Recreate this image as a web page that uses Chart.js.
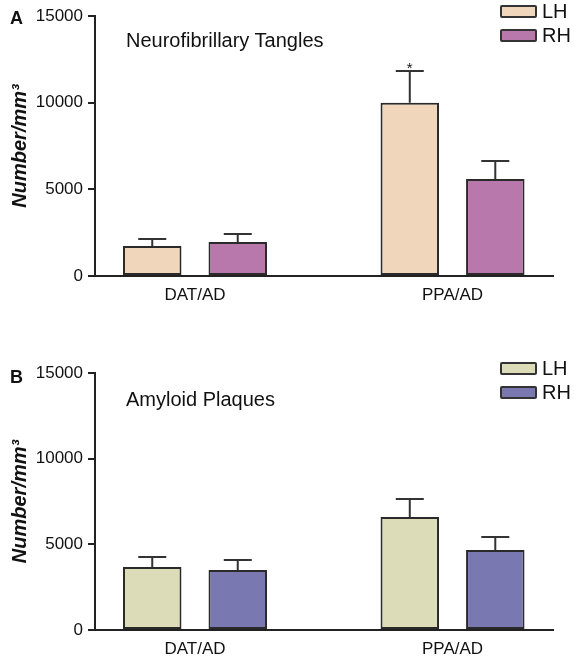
<!DOCTYPE html>
<html>
<head>
<meta charset="utf-8">
<script src="https://cdn.jsdelivr.net/npm/chart.js@4.4.1/dist/chart.umd.min.js"></script>
<style>
  html, body { margin: 0; padding: 0; background: #fff; }
  body { width: 574px; height: 660px; position: relative; overflow: hidden;
         font-family: "Liberation Sans", Arial, Helvetica, sans-serif; color: #111; }
  .panel { position: absolute; left: 0; width: 574px; }
  .panel canvas { position: absolute; left: 0; top: 0; }
  .tag { position: absolute; left: 10px; font-size: 18px; font-weight: bold; line-height: 1; }
  .heading { position: absolute; left: 126px; font-size: 20px; line-height: 1; }
  .legend { position: absolute; left: 500px; font-size: 20px; }
  .legend .row { display: flex; align-items: center; height: 24.5px; }
  .legend .sw { box-sizing: border-box; width: 37px; height: 13px; border: 2px solid #333;
                border-radius: 2px; margin-right: 5px; }
</style>
</head>
<body>

<div class="panel" id="panelA" style="top:0;height:320px">
  <canvas id="chartA" width="574" height="320"></canvas>
  <div class="tag" style="top:9px">A</div>
  <div class="heading" style="top:30px">Neurofibrillary Tangles</div>
  <div class="legend" id="legendA" style="top:-1px"></div>
</div>

<div class="panel" id="panelB" style="top:330px;height:330px">
  <canvas id="chartB" width="574" height="330"></canvas>
  <div class="tag" style="top:38px">B</div>
  <div class="heading" style="top:59px">Amyloid Plaques</div>
  <div class="legend" id="legendB" style="top:26px"></div>
</div>

<script>
// data
const categories = ['DAT/AD', 'PPA/AD'];
const seriesNames = ['LH', 'RH'];

const tanglesLH = [1730, 10000];
const tanglesRH = [1960, 5600];
const tanglesLHsem = [400, 1830];
const tanglesRHsem = [460, 1040];
const tanglesLHmarks = ['', '*'];

const plaquesLH = [3680, 6600];
const plaquesRH = [3500, 4670];
const plaquesLHsem = [585, 1050];
const plaquesRHsem = [585, 760];

const yTicks = [0, 5000, 10000, 15000];

const FONT = '"Liberation Sans", Arial, Helvetica, sans-serif';
const INK = '#222';

// draws SEM whiskers (and significance marks) on top of the bars
const errorBars = {
    id: 'errorBars',
    afterDatasetsDraw(chart) {
        const { ctx, scales: { y } } = chart;
        ctx.save();
        ctx.strokeStyle = '#333';
        ctx.lineWidth = 2;
        ctx.fillStyle = '#111';
        ctx.font = `15px ${FONT}`;
        ctx.textAlign = 'center';
        ctx.textBaseline = 'alphabetic';
        chart.data.datasets.forEach((ds, i) => {
            const meta = chart.getDatasetMeta(i);
            meta.data.forEach((bar, j) => {
                const top = y.getPixelForValue(ds.data[j].y + ds.sem[j]);
                ctx.beginPath();
                ctx.moveTo(bar.x, bar.y);
                ctx.lineTo(bar.x, top);
                ctx.moveTo(bar.x - 14, top);
                ctx.lineTo(bar.x + 14, top);
                ctx.stroke();
                if (ds.marks && ds.marks[j]) ctx.fillText(ds.marks[j], bar.x, top + 2);
            });
        });
        ctx.restore();
    }
};

function legend(el, colors) {
    el.innerHTML = seriesNames.map((n, i) =>
        `<div class="row"><span class="sw" style="background:${colors[i]}"></span>${n}</div>`).join('');
}

function makeChart(canvas, lh, rh, lhSem, rhSem, colors, marks, chartTop, xHeight) {
    const toXY = arr => arr.map((v, i) => ({ x: i, y: v }));
    return new Chart(canvas, {
        type: 'bar',
        data: {
            datasets: [
                { label: seriesNames[0], data: toXY(lh), sem: lhSem, marks: marks,
                  backgroundColor: colors[0], borderColor: '#2a2a2a', borderWidth: 2, borderSkipped: false },
                { label: seriesNames[1], data: toXY(rh), sem: rhSem,
                  backgroundColor: colors[1], borderColor: '#2a2a2a', borderWidth: 2, borderSkipped: false }
            ]
        },
        options: {
            responsive: false,
            animation: false,
            devicePixelRatio: 1,
            categoryPercentage: 0.664,
            barPercentage: 0.684,
            layout: { padding: { top: chartTop, right: 21, bottom: 0, left: 0 } },
            plugins: { legend: { display: false }, tooltip: { enabled: false } },
            scales: {
                x: {
                    type: 'linear',
                    offset: false,
                    bounds: 'data',
                    min: -0.3883,
                    max: 1.3901,
                    afterBuildTicks: s => { s.ticks = categories.map((c, i) => ({ value: i })); },
                    afterFit: s => { s.height = xHeight; },
                    grid: { display: false, drawTicks: false },
                    border: { color: INK, width: 2 },
                    ticks: {
                        autoSkip: false, maxRotation: 0, padding: 9,
                        color: '#111', font: { family: FONT, size: 17 },
                        callback: v => categories[v] ?? ''
                    }
                },
                y: {
                    min: 0,
                    max: 15000,
                    afterBuildTicks: s => { s.ticks = yTicks.map(v => ({ value: v })); },
                    afterFit: s => { s.width = 95; },
                    grid: { drawOnChartArea: false, drawTicks: true, tickLength: 7, color: INK, lineWidth: 2 },
                    border: { color: INK, width: 2 },
                    ticks: {
                        padding: 5, color: '#111', font: { family: FONT, size: 17 },
                        callback: v => String(v)
                    },
                    title: {
                        display: true, text: 'Number/mm³', color: '#111',
                        padding: { top: 8, bottom: 0 },
                        font: { family: FONT, size: 20, weight: 'bold', style: 'italic' }
                    }
                }
            }
        },
        plugins: [errorBars]
    });
}

const colorsA = ['#f0d6ba', '#b978ab'];
const colorsB = ['#dcdcb8', '#7a78b0'];

makeChart(document.getElementById('chartA'), tanglesLH, tanglesRH, tanglesLHsem, tanglesRHsem,
    colorsA, tanglesLHmarks, 16, 44);
makeChart(document.getElementById('chartB'), plaquesLH, plaquesRH, plaquesLHsem, plaquesRHsem,
    colorsB, null, 43, 30);

legend(document.getElementById('legendA'), colorsA);
legend(document.getElementById('legendB'), colorsB);
</script>
</body>
</html>
